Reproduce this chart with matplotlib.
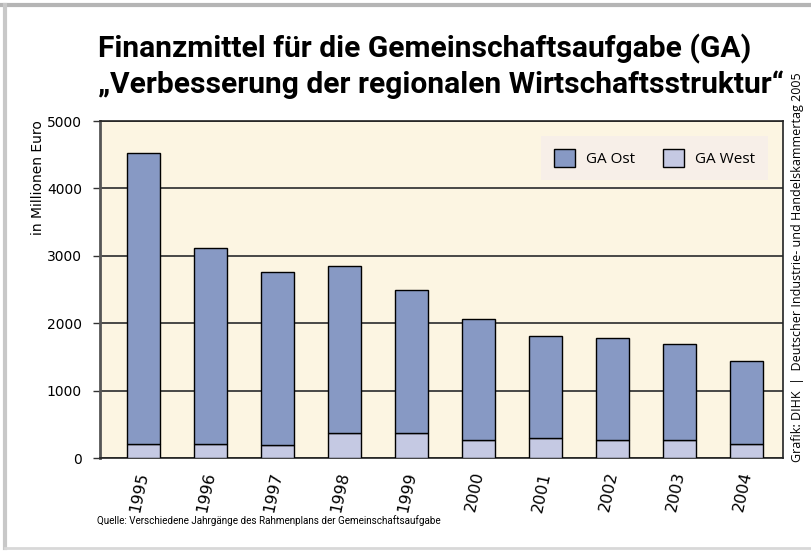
import numpy as np
import matplotlib.pyplot as plt
from matplotlib.patches import Patch
from matplotlib.lines import Line2D

# Daten (Mio. Euro)
jahre = ["1995", "1996", "1997", "1998", "1999", "2000", "2001", "2002", "2003", "2004"]
ga_west = [215, 205, 195, 375, 365, 265, 290, 265, 265, 205]
ga_ost = [4315, 2915, 2570, 2470, 2130, 1795, 1525, 1520, 1425, 1240]

c_ost = "#8799c4"
c_west = "#c5c9e3"
bg = "#fcf5e2"

fig = plt.figure(figsize=(8.11, 5.53), dpi=100)
ax = fig.add_axes([100/811, 95/553, 683/811, 337/553])
ax.set_facecolor(bg)

x = np.arange(len(jahre))
ax.bar(x, ga_west, width=0.49, color=c_west, edgecolor="black", linewidth=1, zorder=3)
ax.bar(x, ga_ost, bottom=ga_west, width=0.49, color=c_ost, edgecolor="black",
       linewidth=1, zorder=3)

ax.set_xlim(-0.65, len(jahre) - 1 + 0.545)
ax.set_ylim(0, 5000)
ax.set_yticks([0, 1000, 2000, 3000, 4000, 5000])
ax.yaxis.grid(True, color="#3a3a3a", linewidth=1.3, zorder=1)
ax.set_axisbelow(True)

ax.set_xticks(x)
ax.set_xticklabels(jahre, rotation=78, rotation_mode="anchor", ha="right", va="center",
                   fontsize=11.5, family="DejaVu Sans")
ax.tick_params(axis="x", length=0, pad=10)
ax.tick_params(axis="y", length=5, width=1, color="#333333", labelsize=10, pad=8)
for s in ax.spines.values():
    s.set_color("#222222")
    s.set_linewidth(1.2)
ax.spines["left"].set_color("#555555")
ax.spines["left"].set_linewidth(2)

handles = [Patch(facecolor=c_ost, edgecolor="black", label="GA Ost"),
           Patch(facecolor=c_west, edgecolor="black", label="GA West")]
leg = ax.legend(handles=handles, ncol=2, loc="upper right",
                bbox_to_anchor=(768/811, (553-136)/553), bbox_transform=fig.transFigure,
                borderaxespad=0, frameon=True, fancybox=False, facecolor="#f7efe8",
                edgecolor="none", framealpha=1, prop={"family": "Open Sans", "size": 11},
                handlelength=1.4, handleheight=1.4, handletextpad=0.7,
                columnspacing=1.8, borderpad=0.85)
leg.set_zorder(5)

renderer = fig.canvas.get_renderer()


def fit(t, width_px):
    # Schriftgröße so anpassen, dass der Text die Breite im Original einnimmt
    w = t.get_window_extent(renderer).width
    t.set_fontsize(t.get_fontsize() * width_px / w)


# Titel
t1 = fig.text(98/811, 1 - 57/553, "Finanzmittel für die Gemeinschaftsaufgabe (GA)",
              va="baseline", ha="left", family="Roboto", weight="bold", size=20)
t2 = fig.text(98/811, 1 - 93/553, "\u201eVerbesserung der regionalen Wirtschaftsstruktur\u201c",
              va="baseline", ha="left", family="Roboto", weight="bold", size=20)
fit(t2, 683)
t1.set_fontsize(t2.get_fontsize())

fig.text(38/811, 1 - 178/553, "in Millionen Euro", rotation=90, va="center", ha="center",
         fontsize=10)
t3 = fig.text(797/811, 1 - 462/553,
              "Grafik: DIHK  |  Deutscher Industrie- und Handelskammertag 2005",
              rotation=90, va="bottom", ha="center", fontsize=9, family="Open Sans")
w3 = t3.get_window_extent(renderer).height
t3.set_fontsize(9 * 389 / w3)
t4 = fig.text(97/811, 1 - 521/553,
              "Quelle: Verschiedene Jahrgänge des Rahmenplans der Gemeinschaftsaufgabe",
              va="center", ha="left", fontsize=8, family="Roboto")
fit(t4, 345)

# Rahmen
fig.add_artist(Line2D([0, 1], [1 - 5/553, 1 - 5/553], color="#b5b5b5", linewidth=3,
                      transform=fig.transFigure))
fig.add_artist(Line2D([5/811, 5/811], [1 - 5/553, 1 - 548/553], color="#c8c8c8",
                      linewidth=3, transform=fig.transFigure))
fig.add_artist(Line2D([5/811, 1], [1 - 548/553, 1 - 548/553], color="#d8d8d8",
                      linewidth=2, transform=fig.transFigure))

fig.savefig("out.png", dpi=100)
